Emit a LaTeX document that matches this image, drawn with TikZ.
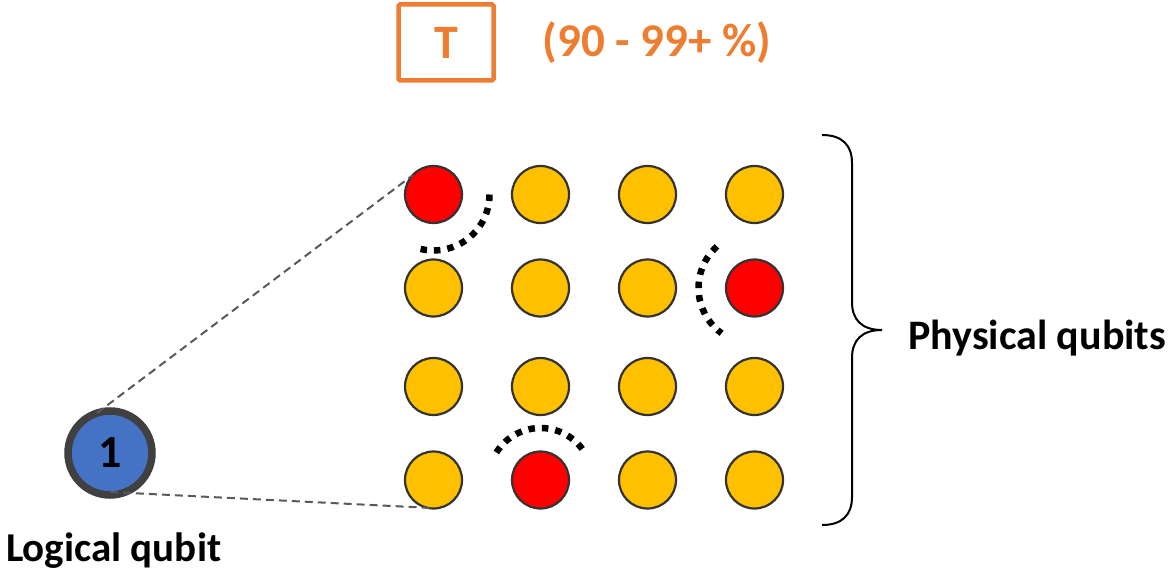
\documentclass[tikz,border=0pt]{standalone}
\usepackage{fontspec}
\setmainfont{Carlito}
\definecolor{qorange}{HTML}{ED7D31}
\definecolor{qyellow}{HTML}{FFC000}
\definecolor{qred}{HTML}{FF0000}
\definecolor{qblue}{HTML}{4472C4}
\definecolor{qborder}{HTML}{333333}
\definecolor{qring}{HTML}{404040}
\definecolor{qdash}{HTML}{595959}
\begin{document}
\begin{tikzpicture}[x=1pt,y=-1pt,
  phys/.style={circle,draw=qborder,line width=2.2pt,minimum size=57pt,inner sep=0pt},
  good/.style={phys,fill=qyellow},
  bad/.style={phys,fill=qred},
  err/.style={line width=6.5pt,dash pattern=on 6.5pt off 7pt,black},
  conn/.style={draw=qdash,line width=2pt,dash pattern=on 8pt off 5pt},
  lbl/.style={font=\fontsize{42}{50}\selectfont\bfseries,inner sep=0pt}]
\useasboundingbox (0,0) rectangle (1170,572);
% T gate box and fidelity
\node[draw=qorange,line width=4.5pt,rounded corners=1.5pt,minimum width=95pt,minimum height=76pt,inner sep=0pt,
      font=\fontsize{48}{56}\selectfont\bfseries,text=qorange] (tbox) at (446,42.5) {T};
\node[font=\fontsize{47}{56}\selectfont\bfseries,text=qorange,inner sep=0pt] (fid) at (657,43) {(90 - 99+ \%)};
% physical qubits grid
\node[bad]  (q11) at (433.5,194.5) {};
\node[good] (q12) at (540.5,194.5) {};
\node[good] (q13) at (647.5,194.5) {};
\node[good] (q14) at (754.5,194.5) {};
\node[good] (q21) at (433.5,288) {};
\node[good] (q22) at (540.5,288) {};
\node[good] (q23) at (647.5,288) {};
\node[bad]  (q24) at (754.5,288) {};
\node[good] (q31) at (433.5,386.5) {};
\node[good] (q32) at (540.5,386.5) {};
\node[good] (q33) at (647.5,386.5) {};
\node[good] (q34) at (754.5,386.5) {};
\node[good] (q41) at (433.5,480) {};
\node[bad]  (q42) at (540.5,480) {};
\node[good] (q43) at (647.5,480) {};
\node[good] (q44) at (754.5,480) {};
% error arcs (y axis is flipped: angles measured clockwise)
\draw[err] ([shift={(0:56)}]q11.center) arc[start angle=0,end angle=104,radius=56];
\draw[err] ([shift={(-132:56)}]q24.center) arc[start angle=-132,end angle=-234,radius=56];
\draw[err] ([shift={(-148:52)}]q42.center) arc[start angle=-148,end angle=-34,radius=52];
% logical qubit
\node[circle,draw=qring,line width=7.5pt,fill=qblue,minimum size=84pt,inner sep=0pt,
      font=\fontsize{46}{54}\selectfont\bfseries] (lq) at (110,453) {1};
\coordinate (lqt) at (97,413);
\coordinate (lqb) at (110,492);
\coordinate (pt) at (413,175);
\coordinate (pb) at (432,508);
\draw[conn] (lqt) -- (pt);
\draw[conn] (lqb) -- (pb);
% brace
\draw[line width=2pt,black] (822,135) .. controls (842,135) and (852,145) .. (852,163)
  -- (852,302) .. controls (852,320) and (862,330) .. (882,330)
  .. controls (862,330) and (852,340) .. (852,358)
  -- (852,497) .. controls (852,515) and (842,525) .. (822,525);
\node[lbl,anchor=base west] (phys) at (908,349) {Physical qubits};
\node[lbl,anchor=base west,font=\fontsize{41}{48}\selectfont\bfseries] (logi) at (6,561) {Logical qubit};
\end{tikzpicture}
\end{document}
